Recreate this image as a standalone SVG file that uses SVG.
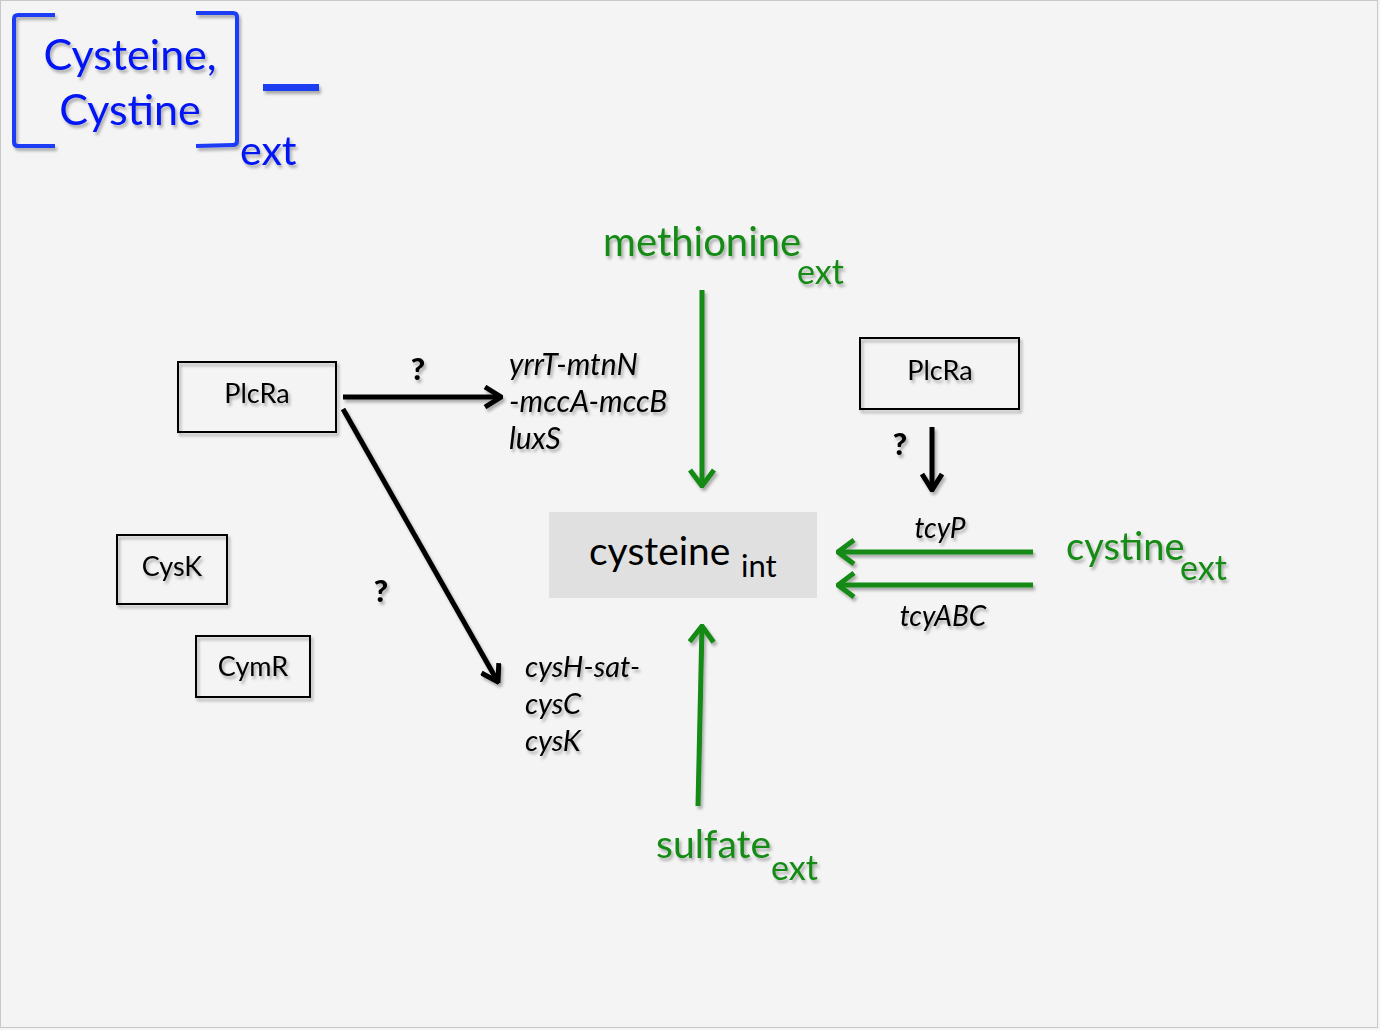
<svg xmlns="http://www.w3.org/2000/svg" width="1380" height="1030" viewBox="0 0 1380 1030">
<style>
text{font-family:Lato,"Open Sans","Liberation Sans",sans-serif;}
.blue{fill:#0512f2;}
.green{fill:#138a13;}
.blk{fill:#000;}
.it{font-style:italic;}
.box{fill:none;stroke:#000;stroke-width:2;}
.bk{stroke:#000;stroke-width:5;fill:none;stroke-linecap:butt;}
.gr{stroke:#138a13;stroke-width:5;fill:none;}
.q{font-weight:900;font-size:31px;}
</style>
<defs>
<filter id="sh" filterUnits="userSpaceOnUse" x="0" y="0" width="1380" height="1030">
<feDropShadow dx="2" dy="3" stdDeviation="1.8" flood-color="#000" flood-opacity="0.3"/>
</filter>
<marker id="ab" viewBox="0 0 20 24" refX="18" refY="12" markerWidth="20" markerHeight="24" markerUnits="userSpaceOnUse" orient="auto">
<path d="M2,2 L18,12 L2,22" fill="none" stroke="#000" stroke-width="5" stroke-linejoin="miter"/>
</marker>
<marker id="ag" viewBox="0 0 20 28" refX="18" refY="14" markerWidth="20" markerHeight="28" markerUnits="userSpaceOnUse" orient="auto">
<path d="M2,2 L18,14 L2,26" fill="none" stroke="#138a13" stroke-width="5"/>
</marker>
</defs>
<rect x="0" y="0" width="1380" height="1030" fill="#f4f4f4"/>
<rect x="0.5" y="0.5" width="1377" height="1027" fill="none" stroke="#c8c8c8" stroke-width="1"/>

<g id="title" filter="url(#sh)">
<path d="M55,15 L18,15 Q14,15 14,19 L14,142 Q14,146 18,146 L55,146" fill="none" stroke="#1a3cf5" stroke-width="4"/>
<path d="M196,13 L233,13 Q237,13 237,17 L237,141 Q237,145 233,145 L196,146" fill="none" stroke="#1a3cf5" stroke-width="4"/>
<rect x="263" y="84" width="56" height="7" fill="#1a3cf0"/>
<text class="blue" x="130" y="70" font-size="43" text-anchor="middle">Cysteine,</text>
<text class="blue" x="130" y="125" font-size="43" text-anchor="middle">Cystine</text>
<text class="blue" x="240" y="165" font-size="41">ext</text>
</g>

<g id="connectors" filter="url(#sh)">
<line class="gr" x1="702" y1="290" x2="702" y2="486" marker-end="url(#ag)"/>
<line class="gr" x1="698" y1="806" x2="702" y2="626" marker-end="url(#ag)"/>
<line class="gr" x1="1033" y1="552" x2="838" y2="552" marker-end="url(#ag)"/>
<line class="gr" x1="1033" y1="585" x2="838" y2="585" marker-end="url(#ag)"/>
<line class="bk" x1="343" y1="397" x2="501" y2="397" marker-end="url(#ab)"/>
<line class="bk" x1="343" y1="409" x2="498" y2="682" marker-end="url(#ab)"/>
<line class="bk" x1="932" y1="427" x2="932" y2="490" marker-end="url(#ab)"/>
</g>

<g id="methionine" filter="url(#sh)">
<text class="green" x="603" y="256" font-size="40">methionine</text>
<text class="green" x="797" y="284" font-size="34">ext</text>
</g>

<g id="plcra-left" filter="url(#sh)">
<rect class="box" x="178" y="362" width="158" height="70"/>
<text class="blk" x="257" y="403" font-size="27" text-anchor="middle">PlcRa</text>
</g>
<g id="q1" filter="url(#sh)"><text class="blk q" x="418" y="380" text-anchor="middle">?</text></g>

<g id="yrrT" filter="url(#sh)">
<text class="blk it" x="509" y="375" font-size="30">yrrT-mtnN</text>
<text class="blk it" x="509" y="412" font-size="30">-mccA-mccB</text>
<text class="blk it" x="509" y="449" font-size="30">luxS</text>
</g>

<g id="q2" filter="url(#sh)"><text class="blk q" x="381" y="602" text-anchor="middle">?</text></g>

<g id="cysk" filter="url(#sh)">
<rect class="box" x="117" y="535" width="110" height="69"/>
<text class="blk" x="172" y="576" font-size="27" text-anchor="middle">CysK</text>
</g>
<g id="cymr" filter="url(#sh)">
<rect class="box" x="196" y="636" width="114" height="61"/>
<text class="blk" x="253" y="676" font-size="27" text-anchor="middle">CymR</text>
</g>

<g id="cysH" filter="url(#sh)">
<text class="blk it" x="525" y="677" font-size="29">cysH-sat-</text>
<text class="blk it" x="525" y="714" font-size="29">cysC</text>
<text class="blk it" x="525" y="751" font-size="29">cysK</text>
</g>

<g id="cysteine-int">
<rect x="549" y="512" width="268" height="86" fill="#e0e0e0"/>
<text class="blk" x="589" y="565" font-size="39">cysteine</text>
<text class="blk" x="741" y="577" font-size="31">int</text>
</g>

<g id="sulfate" filter="url(#sh)">
<text class="green" x="656" y="858" font-size="39">sulfate</text>
<text class="green" x="771" y="880" font-size="34">ext</text>
</g>

<g id="plcra-right" filter="url(#sh)">
<rect class="box" x="860" y="338" width="159" height="71"/>
<text class="blk" x="940" y="380" font-size="27" text-anchor="middle">PlcRa</text>
</g>
<g id="q3" filter="url(#sh)"><text class="blk q" x="900" y="455" text-anchor="middle">?</text></g>

<g id="tcyP" filter="url(#sh)"><text class="blk it" x="940" y="538" font-size="28" text-anchor="middle">tcyP</text></g>
<g id="tcyABC" filter="url(#sh)"><text class="blk it" x="943" y="626" font-size="28" text-anchor="middle">tcyABC</text></g>

<g id="cystine" filter="url(#sh)">
<text class="green" x="1066" y="560" font-size="38">cystine</text>
<text class="green" x="1180" y="580" font-size="34">ext</text>
</g>
</svg>
